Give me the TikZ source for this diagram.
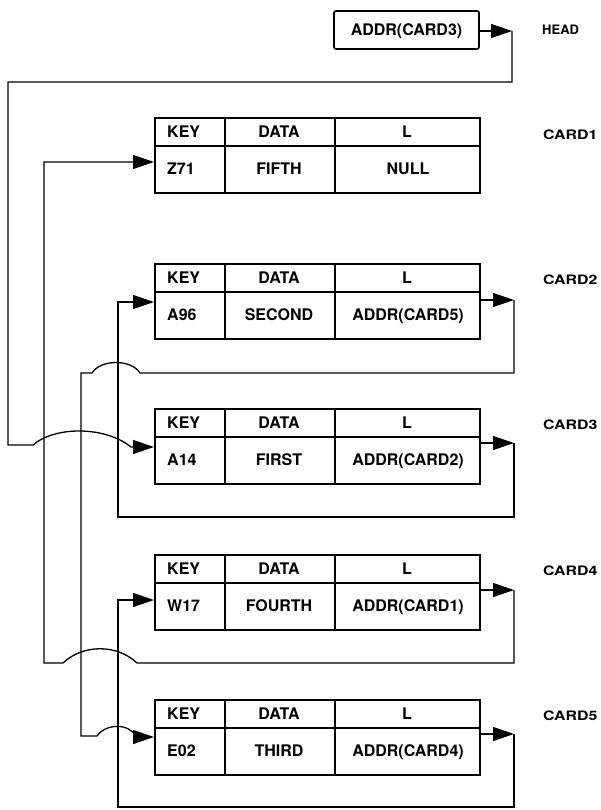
\documentclass[tikz,border=0pt]{standalone}
\usepackage{fontspec}
\usepackage{graphicx}
\setmainfont{TeX Gyre Heros}
\usetikzlibrary{arrows.meta}
\newcommand\mkcard[5]{%
  \node[cardbox] (#1) at (154,#2) {};
  \draw[cardrule] (154,#2+29) -- (479,#2+29);
  \draw[cardrule] (225,#2) -- (225,#2+75);
  \draw[cardrule] (335,#2) -- (335,#2+75);
  \node[celltxt,anchor=west] (#1kh) at (167,#2+14.5) {KEY};
  \node[celltxt] (#1dh) at (279,#2+14.5) {DATA};
  \node[celltxt] (#1lh) at (407,#2+14.5) {L};
  \node[celltxt,anchor=west] (#1kv) at (167,#2+52) {#3};
  \node[celltxt] (#1dv) at (279,#2+52) {#4};
  \node[celltxt] (#1lv) at (408,#2+52) {#5};
}
\newcommand\widelbl[1]{\scalebox{1.22}[1]{#1}}
\begin{document}
\begin{tikzpicture}[x=1pt,y=-1pt,
  link/.style={line width=1.3pt},
  arr/.style={line width=1.3pt,-{Triangle[length=21pt,width=14pt]}},
  cardbox/.style={draw,line width=1.8pt,minimum width=325pt,minimum height=75pt,inner sep=0pt,anchor=north west},
  cardrule/.style={line width=1.5pt},
  celltxt/.style={font=\fontsize{16}{16}\selectfont\bfseries,inner sep=0pt,text height=11.5pt,text depth=0pt},
  lbl/.style={font=\fontsize{13}{13}\selectfont\bfseries,anchor=west,inner sep=0pt,text height=9.3pt,text depth=0pt}]
\useasboundingbox[fill=white] (0,0) rectangle (600,810);

% head
\node[draw,line width=1.6pt,rounded corners=2pt,minimum width=145pt,minimum height=38pt,inner sep=0pt,
      font=\fontsize{16}{16}\selectfont\bfseries,text height=11.5pt,text depth=0pt] (head) at (406.5,30) {ADDR(CARD3)};
\node[lbl] (headl) at (542,29.5) {HEAD};

% cards
\mkcard{c1}{117}{Z71}{FIFTH}{NULL}
\mkcard{c2}{263}{A96}{SECOND}{ADDR(CARD5)}
\mkcard{c3}{408}{A14}{FIRST}{ADDR(CARD2)}
\mkcard{c4}{554}{W17}{FOURTH}{ADDR(CARD1)}
\mkcard{c5}{699}{E02}{THIRD}{ADDR(CARD4)}

\node[lbl] (c1l) at (543,134.5) {\widelbl{CARD1}};
\node[lbl] (c2l) at (543,280) {\widelbl{CARD2}};
\node[lbl] (c3l) at (543,424.5) {\widelbl{CARD3}};
\node[lbl] (c4l) at (543,570.5) {\widelbl{CARD4}};
\node[lbl] (c5l) at (543,715.5) {\widelbl{CARD5}};

% coordinates
\coordinate (hT) at (512,31);
\coordinate (c1in) at (c1.west |- 0,162);
\coordinate (c2in) at (c2.west |- 0,302);
\coordinate (c3in) at (c3.west |- 0,447);
\coordinate (c4in) at (c4.west |- 0,600);
\coordinate (c5in) at (c5.west |- 0,737);
\coordinate (c2T) at (514,300);
\coordinate (c3T) at (514,443);
\coordinate (c4T) at (514,590);
\coordinate (c5T) at (514,734);

% head -> card3
\draw[arr] (head.east |- hT) -- (hT);
\draw[arr] (hT) -- (512,82) -- (8,82) -- (8,445) -- (33,445)
   .. controls (55,426) and (105,426) .. (131,447) -- (c3in);

% card2 -> card5
\draw[arr] (c2.east |- c2T) -- (c2T);
\draw[arr] (c2T) -- (514,373) -- (140,373) .. controls (131,359) and (101,359) .. (92,373)
   -- (81,373) -- (81,736) -- (97,736) .. controls (106,723) and (130,723) .. (136,737) -- (c5in);

% card3 -> card2
\draw[arr] (c3.east |- c3T) -- (c3T);
\draw[arr] (c3T) -- (514,517) -- (118,517) -- (118,302) -- (c2in);

% card4 -> card1
\draw[arr] (c4.east |- c4T) -- (c4T);
\draw[arr] (c4T) -- (514,663) -- (137,663) .. controls (117,644) and (83,644) .. (63,663)
   -- (44,663) -- (44,162) -- (c1in);

% card5 -> card4
\draw[arr] (c5.east |- c5T) -- (c5T);
\draw[arr] (c5T) -- (514,807) -- (118,807) -- (118,600) -- (c4in);
\end{tikzpicture}
\end{document}
